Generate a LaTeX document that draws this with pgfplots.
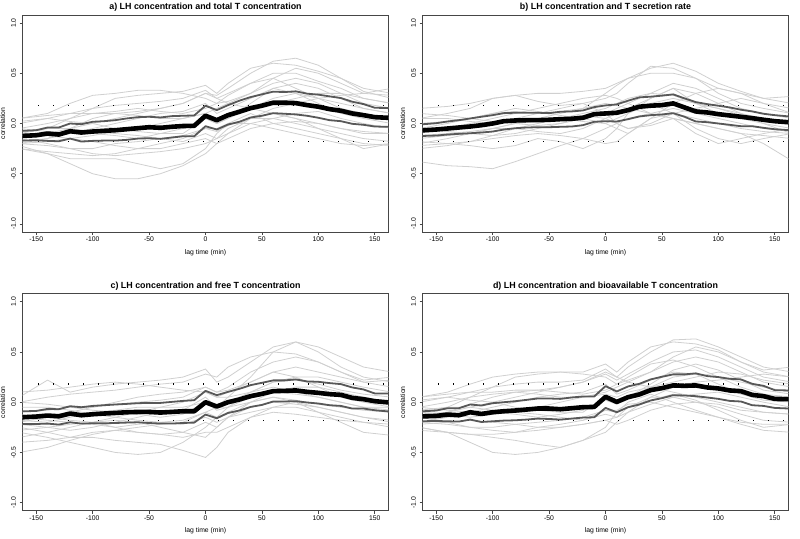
\documentclass[border=0pt]{standalone}
\usepackage{fontspec}
\setmainfont{Liberation Sans}
\usepackage{pgfplots}
\usepackage{pgfplotstable}
\pgfplotsset{compat=1.18}

\definecolor{lightg}{RGB}{208,208,208}
\definecolor{cig}{RGB}{88,88,88}
\definecolor{framec}{RGB}{70,70,70}

\pgfplotsset{
  panel/.style={
    scale only axis, width=365.6pt, height=217pt, anchor=south west,
    xmin=-162, xmax=162, ymin=-1.08, ymax=1.08,
    axis line style={framec, line width=0.8pt},
    xtick={-150,-100,-50,0,50,100,150},
    ytick={-1,-0.5,0,0.5,1},
    tick align=outside, xtick pos=bottom, ytick pos=left,
    major tick length=3pt,
    tick style={framec, line width=0.6pt},
    /pgf/number format/assume math mode=true,
    ticklabel style={font=\fontsize{6.8}{8}\selectfont},
    xticklabel style={inner sep=1.5pt},
    yticklabel style={rotate=90, anchor=south, inner sep=3.6pt,
       /pgf/number format/.cd, fixed, fixed zerofill, precision=1},
    xlabel={lag time (min)}, ylabel={correlation},
    label style={font=\fontsize{6.8}{8}\selectfont},
    xlabel style={inner sep=1pt, yshift=-5pt},
    ylabel style={inner sep=1pt},
    ylabel shift=1.2pt,
    every axis title shift=1.5pt,
    title style={font=\bfseries\fontsize{8.9}{10}\selectfont, inner sep=2pt},
  },
  gl/.style={lightg, line width=0.8pt},
  dots/.style={black, line width=1.4pt, dash pattern=on 1.4pt off 13.6pt},
  ci/.style={cig, line width=1.8pt, line join=round},
  meanl/.style={black, line width=4.6pt, line join=round},
}

% ---------- mean and confidence lines (all panels) ----------
\pgfplotstableread{
lag aM aU aL bM bU bL cM cU cL dM dU dL
-165 -0.125 -0.075 -0.170 -0.070 -0.010 -0.125 -0.152 -0.092 -0.217 -0.142 -0.092 -0.190
-150 -0.117 -0.067 -0.167 -0.060 0.003 -0.120 -0.143 -0.087 -0.217 -0.137 -0.083 -0.187
-140 -0.100 -0.040 -0.173 -0.050 0.020 -0.110 -0.133 -0.067 -0.213 -0.123 -0.060 -0.190
-130 -0.110 -0.040 -0.177 -0.040 0.033 -0.103 -0.140 -0.070 -0.223 -0.130 -0.060 -0.193
-120 -0.077 0.000 -0.150 -0.030 0.050 -0.097 -0.113 -0.040 -0.200 -0.100 -0.023 -0.173
-110 -0.090 -0.007 -0.180 -0.017 0.067 -0.090 -0.130 -0.050 -0.213 -0.117 -0.033 -0.197
-100 -0.080 0.017 -0.173 0.000 0.083 -0.080 -0.120 -0.037 -0.210 -0.100 -0.010 -0.190
-90 -0.073 0.023 -0.170 0.023 0.103 -0.060 -0.113 -0.030 -0.210 -0.090 0.000 -0.183
-80 -0.067 0.033 -0.170 0.030 0.107 -0.047 -0.107 -0.023 -0.207 -0.083 0.010 -0.180
-70 -0.057 0.050 -0.163 0.033 0.107 -0.040 -0.100 -0.017 -0.203 -0.073 0.023 -0.173
-60 -0.047 0.063 -0.150 0.033 0.107 -0.037 -0.097 -0.010 -0.200 -0.063 0.037 -0.163
-50 -0.037 0.067 -0.147 0.037 0.103 -0.037 -0.097 -0.007 -0.207 -0.063 0.037 -0.167
-40 -0.043 0.060 -0.153 0.043 0.117 -0.033 -0.103 -0.007 -0.213 -0.070 0.033 -0.173
-30 -0.033 0.073 -0.140 0.047 0.120 -0.030 -0.097 0.003 -0.213 -0.060 0.047 -0.163
-20 -0.025 0.077 -0.127 0.057 0.130 -0.017 -0.090 0.013 -0.207 -0.050 0.057 -0.153
-10 -0.023 0.080 -0.127 0.093 0.163 0.017 -0.090 0.020 -0.203 -0.047 0.057 -0.150
0 0.077 0.177 -0.027 0.100 0.180 0.023 0.000 0.113 -0.123 0.053 0.160 -0.057
10 0.033 0.133 -0.060 0.107 0.190 0.020 -0.043 0.070 -0.160 0.003 0.107 -0.100
20 0.083 0.183 -0.010 0.133 0.227 0.043 0.000 0.103 -0.107 0.050 0.157 -0.050
30 0.117 0.227 0.017 0.167 0.260 0.070 0.027 0.133 -0.083 0.077 0.183 -0.023
40 0.153 0.263 0.060 0.177 0.267 0.083 0.060 0.170 -0.047 0.120 0.227 0.017
50 0.177 0.290 0.077 0.183 0.277 0.090 0.083 0.193 -0.027 0.140 0.253 0.040
60 0.207 0.317 0.103 0.200 0.290 0.103 0.110 0.217 0.007 0.167 0.277 0.070
70 0.207 0.313 0.097 0.160 0.250 0.067 0.113 0.217 0.007 0.163 0.277 0.067
80 0.203 0.320 0.090 0.120 0.213 0.020 0.117 0.227 0.010 0.167 0.287 0.060
90 0.183 0.297 0.077 0.110 0.193 0.013 0.103 0.207 -0.003 0.147 0.260 0.047
100 0.167 0.287 0.057 0.093 0.177 0.000 0.093 0.203 -0.013 0.137 0.250 0.033
110 0.143 0.270 0.033 0.080 0.160 -0.013 0.080 0.190 -0.030 0.117 0.233 0.013
120 0.127 0.253 0.023 0.067 0.137 -0.027 0.073 0.180 -0.037 0.110 0.227 0.007
130 0.100 0.217 -0.003 0.053 0.120 -0.027 0.043 0.147 -0.063 0.073 0.183 -0.030
140 0.083 0.193 -0.013 0.037 0.097 -0.043 0.030 0.127 -0.063 0.060 0.163 -0.037
150 0.063 0.157 -0.030 0.023 0.083 -0.057 0.010 0.087 -0.080 0.033 0.120 -0.057
165 0.055 0.152 -0.034 0.010 0.068 -0.068 -0.005 0.087 -0.095 0.029 0.116 -0.064
}\stats

% ---------- individual subjects, panel a ----------
\pgfplotstableread[header=has colnames]{
lag -165 -140 -120 -100 -80 -60 -40 -20 0 10 20 40 60 80 100 120 140 165
g1 -0.20 -0.15 -0.05 0.05 0.10 0.12 0.15 0.20 0.30 0.28 0.35 0.50 0.62 0.65 0.58 0.45 0.35 0.30
g2 -0.10 -0.05 0.05 0.15 0.25 0.28 0.30 0.32 0.38 0.30 0.40 0.55 0.60 0.58 0.52 0.45 0.32 0.25
g3 0.05 0.10 0.20 0.28 0.30 0.33 0.33 0.30 0.25 0.20 0.22 0.30 0.45 0.55 0.50 0.40 0.30 0.35
g4 -0.25 -0.30 -0.40 -0.50 -0.55 -0.55 -0.50 -0.42 -0.30 -0.20 -0.10 0.05 0.15 0.20 0.25 0.28 0.30 0.28
g5 -0.22 -0.30 -0.35 -0.35 -0.35 -0.40 -0.45 -0.40 -0.25 -0.10 0.00 0.10 0.00 -0.05 -0.10 -0.15 -0.20 -0.22
g6 -0.15 -0.20 -0.25 -0.30 -0.32 -0.30 -0.28 -0.25 -0.20 -0.15 -0.05 0.05 0.05 0.00 -0.05 -0.10 -0.15 -0.18
g7 0.00 0.05 0.10 0.15 0.18 0.20 0.22 0.25 0.33 0.25 0.20 0.15 0.10 0.05 0.00 -0.05 -0.10 -0.10
g8 -0.05 0.00 0.05 0.10 0.10 0.08 0.05 0.05 0.10 0.15 0.20 0.30 0.40 0.45 0.40 0.30 0.20 0.15
g9 -0.18 -0.15 -0.10 -0.05 0.00 0.05 0.10 0.12 0.20 0.10 0.15 0.25 0.35 0.30 0.20 0.10 0.05 0.00
g10 -0.10 -0.12 -0.15 -0.12 -0.08 -0.05 0.00 0.05 0.10 0.05 0.10 0.15 0.20 0.25 0.30 0.30 0.25 0.20
g11 -0.20 -0.22 -0.25 -0.25 -0.20 -0.18 -0.15 -0.12 -0.05 -0.08 -0.02 0.05 0.10 0.05 -0.05 -0.15 -0.25 -0.20
g12 0.02 0.05 0.02 0.00 -0.05 -0.08 -0.10 -0.10 0.05 0.00 0.05 0.15 0.25 0.30 0.25 0.20 0.15 0.10
g13 -0.25 -0.28 -0.30 -0.32 -0.30 -0.25 -0.20 -0.15 -0.05 -0.05 0.00 0.00 -0.05 -0.10 -0.15 -0.20 -0.22 -0.20
g14 -0.12 -0.10 -0.05 0.00 0.05 0.10 0.15 0.20 0.30 0.25 0.30 0.40 0.50 0.50 0.42 0.35 0.25 0.20
g15 -0.08 -0.05 -0.05 -0.08 -0.10 -0.12 -0.15 -0.18 -0.10 -0.15 -0.10 0.00 0.05 0.10 0.12 0.05 0.00 -0.05
g16 0.05 0.08 0.10 0.10 0.12 0.15 0.12 0.10 0.15 0.20 0.28 0.40 0.45 0.35 0.25 0.15 0.10 0.05
g17 -0.20 -0.18 -0.15 -0.18 -0.22 -0.25 -0.25 -0.20 -0.15 -0.20 -0.15 -0.05 0.00 0.02 0.00 -0.05 -0.08 -0.10
g18 -0.05 -0.08 -0.10 -0.10 -0.12 -0.15 -0.10 -0.05 0.05 0.00 0.05 0.20 0.35 0.40 0.35 0.25 0.15 0.10
}\rawA
\pgfplotstabletranspose[colnames from=lag]\grayA{\rawA}

% ---------- panel b ----------
\pgfplotstableread[header=has colnames]{
lag -165 -140 -120 -100 -80 -60 -40 -20 0 10 20 40 60 80 100 120 140 165
g1 -0.38 -0.42 -0.43 -0.45 -0.38 -0.30 -0.22 -0.15 -0.05 0.00 0.05 0.10 0.15 0.10 0.05 0.00 -0.05 -0.08
g2 0.15 0.17 0.20 0.25 0.28 0.30 0.30 0.32 0.35 0.40 0.45 0.55 0.60 0.52 0.40 0.32 0.25 0.20
g3 0.05 0.10 0.15 0.25 0.28 0.22 0.18 0.20 0.25 0.30 0.40 0.57 0.55 0.45 0.30 0.20 0.15 0.10
g4 -0.20 -0.15 -0.10 -0.05 0.00 0.05 0.10 0.15 0.30 0.38 0.45 0.50 0.50 0.45 0.35 0.30 0.25 0.27
g5 -0.10 -0.05 0.00 0.05 0.10 0.15 0.20 0.25 0.28 0.25 0.20 0.10 0.05 0.00 -0.05 -0.10 -0.20 -0.37
g6 -0.22 -0.20 -0.22 -0.25 -0.22 -0.15 -0.18 -0.25 -0.15 -0.05 0.10 0.25 0.35 0.30 0.20 0.10 0.00 -0.10
g7 0.10 0.08 0.05 0.02 0.00 -0.02 0.00 0.05 0.10 0.15 0.20 0.30 0.40 0.35 0.25 0.15 0.10 0.05
g8 -0.05 -0.08 -0.10 -0.12 -0.10 -0.05 0.00 0.05 0.10 0.12 0.15 0.20 0.25 0.20 0.15 0.10 0.05 0.00
g9 -0.15 -0.12 -0.10 -0.05 0.00 0.02 0.05 0.08 0.05 0.00 -0.05 -0.02 0.05 -0.10 -0.20 -0.15 -0.10 -0.05
g10 0.00 0.02 0.05 0.10 0.15 0.12 0.08 0.05 0.00 -0.05 -0.10 0.05 0.20 0.30 0.35 0.30 0.20 0.15
g11 -0.12 -0.10 -0.08 -0.05 -0.05 -0.08 -0.10 -0.05 0.05 0.10 0.15 0.10 0.05 0.00 -0.05 -0.10 -0.12 -0.15
g12 -0.05 0.00 0.05 0.10 0.12 0.10 0.12 0.15 0.20 0.18 0.15 0.25 0.35 0.20 0.10 0.05 0.00 -0.05
g13 -0.18 -0.20 -0.18 -0.15 -0.12 -0.10 -0.12 -0.15 -0.20 -0.18 -0.10 0.05 0.10 0.05 0.00 -0.05 -0.08 -0.10
g14 0.05 0.05 0.02 0.00 0.05 0.10 0.15 0.20 0.10 0.00 -0.05 0.00 0.10 0.15 0.20 0.25 0.20 0.10
g15 -0.08 -0.05 -0.02 0.00 0.02 0.05 0.05 0.02 0.00 0.05 0.10 0.20 0.10 -0.05 -0.15 -0.20 -0.15 -0.10
g16 -0.25 -0.22 -0.18 -0.12 -0.05 0.00 0.05 0.10 0.15 0.20 0.25 0.30 0.28 0.20 0.15 0.08 0.03 0.00
}\rawB
\pgfplotstabletranspose[colnames from=lag]\grayB{\rawB}

% ---------- panel c ----------
\pgfplotstableread[header=has colnames]{
lag -165 -140 -120 -100 -80 -60 -40 -20 0 10 20 40 60 80 100 120 140 165
g1 -0.50 -0.45 -0.38 -0.32 -0.28 -0.25 -0.22 -0.20 -0.10 -0.05 0.05 0.25 0.50 0.60 0.55 0.45 0.35 0.30
g2 -0.30 -0.35 -0.40 -0.45 -0.50 -0.52 -0.50 -0.40 -0.25 -0.15 -0.05 0.10 0.20 0.25 0.25 0.20 0.15 0.10
g3 0.05 0.22 0.10 0.15 0.18 0.20 0.22 0.25 0.33 0.20 0.25 0.40 0.55 0.60 0.50 0.35 0.25 0.20
g4 -0.25 -0.30 -0.35 -0.35 -0.38 -0.40 -0.42 -0.48 -0.55 -0.45 -0.30 -0.15 -0.05 0.00 -0.05 -0.10 -0.15 -0.20
g5 -0.15 -0.18 -0.20 -0.22 -0.25 -0.22 -0.20 -0.18 -0.10 -0.15 -0.10 0.00 0.05 0.00 -0.10 -0.20 -0.30 -0.33
g6 0.00 0.05 0.08 0.10 0.12 0.15 0.18 0.20 0.28 0.25 0.35 0.45 0.50 0.48 0.40 0.30 0.20 0.15
g7 -0.20 -0.15 -0.10 -0.05 0.00 0.05 0.08 0.10 0.15 0.10 0.12 0.20 0.30 0.35 0.30 0.25 0.20 0.22
g8 -0.10 -0.08 -0.05 -0.08 -0.10 -0.12 -0.15 -0.12 0.00 -0.05 -0.05 0.05 0.10 0.15 0.15 0.10 0.05 0.00
g9 -0.35 -0.30 -0.25 -0.20 -0.18 -0.20 -0.25 -0.30 -0.35 -0.25 -0.15 -0.05 0.00 -0.02 -0.05 -0.10 -0.15 -0.18
g10 0.10 0.12 0.15 0.18 0.20 0.18 0.15 0.12 0.10 0.05 0.05 0.10 0.15 0.10 0.05 0.00 -0.05 -0.05
g11 -0.22 -0.25 -0.28 -0.25 -0.20 -0.15 -0.10 -0.08 0.05 -0.05 0.00 0.10 0.20 0.22 0.18 0.12 0.08 0.05
g12 -0.05 -0.05 -0.08 -0.12 -0.15 -0.18 -0.20 -0.22 -0.15 -0.20 -0.15 -0.10 -0.05 -0.05 -0.10 -0.15 -0.20 -0.25
g13 -0.28 -0.25 -0.22 -0.20 -0.15 -0.10 -0.05 0.00 0.10 0.05 0.10 0.20 0.30 0.25 0.15 0.05 0.00 -0.05
g14 -0.12 -0.15 -0.18 -0.20 -0.25 -0.30 -0.32 -0.30 -0.20 -0.25 -0.15 0.00 0.10 0.08 0.05 0.00 -0.05 -0.08
g15 0.00 -0.02 -0.05 -0.05 -0.02 0.00 0.02 0.05 0.15 0.10 0.15 0.30 0.40 0.45 0.40 0.30 0.22 0.25
g16 -0.18 -0.20 -0.15 -0.10 -0.08 -0.05 -0.05 -0.05 0.00 -0.08 -0.05 0.00 0.05 0.02 -0.02 -0.05 -0.08 -0.10
g17 -0.40 -0.38 -0.35 -0.30 -0.28 -0.30 -0.32 -0.35 -0.30 -0.30 -0.25 -0.15 -0.10 -0.12 -0.15 -0.18 -0.20 -0.22
}\rawC
\pgfplotstabletranspose[colnames from=lag]\grayC{\rawC}

% ---------- panel d ----------
\pgfplotstableread[header=has colnames]{
lag -165 -140 -120 -100 -80 -60 -40 -20 0 10 20 40 60 80 100 120 140 165
g1 -0.15 -0.10 -0.02 0.05 0.10 0.12 0.15 0.20 0.30 0.25 0.35 0.50 0.62 0.63 0.55 0.45 0.35 0.30
g2 -0.10 -0.05 0.05 0.15 0.25 0.28 0.30 0.30 0.38 0.30 0.40 0.55 0.60 0.58 0.52 0.40 0.30 0.25
g3 0.05 0.10 0.18 0.25 0.28 0.30 0.30 0.28 0.25 0.18 0.22 0.30 0.45 0.55 0.50 0.40 0.32 0.35
g4 -0.25 -0.30 -0.40 -0.50 -0.52 -0.50 -0.45 -0.38 -0.30 -0.20 -0.10 0.05 0.15 0.20 0.22 0.25 0.28 0.25
g5 -0.25 -0.30 -0.32 -0.35 -0.38 -0.42 -0.45 -0.38 -0.25 -0.10 0.00 0.08 0.00 -0.08 -0.15 -0.22 -0.28 -0.30
g6 -0.15 -0.20 -0.25 -0.28 -0.30 -0.28 -0.25 -0.22 -0.18 -0.15 -0.05 0.05 0.05 0.00 -0.05 -0.12 -0.18 -0.20
g7 0.00 0.05 0.10 0.15 0.18 0.20 0.20 0.22 0.33 0.25 0.20 0.15 0.10 0.05 0.00 -0.05 -0.10 -0.12
g8 -0.05 0.00 0.05 0.08 0.10 0.08 0.05 0.05 0.10 0.15 0.20 0.30 0.40 0.45 0.40 0.30 0.20 0.15
g9 -0.20 -0.15 -0.10 -0.05 0.00 0.05 0.08 0.10 0.18 0.08 0.12 0.22 0.30 0.28 0.18 0.08 0.02 0.00
g10 -0.10 -0.12 -0.15 -0.12 -0.08 -0.05 0.00 0.05 0.08 0.05 0.10 0.15 0.20 0.25 0.30 0.28 0.22 0.18
g11 -0.20 -0.22 -0.25 -0.25 -0.22 -0.20 -0.18 -0.15 -0.08 -0.10 -0.05 0.02 0.08 0.02 -0.08 -0.18 -0.25 -0.22
g12 0.02 0.05 0.02 0.00 -0.05 -0.08 -0.10 -0.10 0.05 0.00 0.05 0.15 0.25 0.28 0.25 0.20 0.15 0.10
g13 -0.28 -0.30 -0.32 -0.32 -0.30 -0.25 -0.22 -0.18 -0.08 -0.08 -0.02 0.00 -0.05 -0.10 -0.15 -0.20 -0.22 -0.22
g14 -0.12 -0.10 -0.05 0.00 0.05 0.10 0.15 0.20 0.28 0.22 0.28 0.40 0.50 0.52 0.45 0.35 0.25 0.20
g15 -0.08 -0.05 -0.05 -0.08 -0.10 -0.12 -0.15 -0.18 -0.12 -0.15 -0.10 -0.02 0.05 0.08 0.10 0.05 0.00 -0.05
g16 0.05 0.08 0.10 0.10 0.12 0.12 0.10 0.08 0.12 0.18 0.25 0.38 0.42 0.35 0.25 0.15 0.08 0.05
g17 -0.22 -0.20 -0.18 -0.20 -0.22 -0.25 -0.25 -0.22 -0.18 -0.22 -0.18 -0.08 -0.02 0.00 -0.02 -0.08 -0.10 -0.12
g18 -0.05 -0.08 -0.10 -0.10 -0.12 -0.15 -0.12 -0.08 0.02 -0.02 0.05 0.18 0.32 0.38 0.32 0.22 0.12 0.08
}\rawD
\pgfplotstabletranspose[colnames from=lag]\grayD{\rawD}

\begin{document}
\begin{tikzpicture}[x=1pt,y=1pt]
\path[use as bounding box] (0,0) rectangle (800,538);

% a
\begin{axis}[panel, at={(22.7pt,306pt)}, title={a) LH concentration and total T concentration}]
\pgfplotsinvokeforeach{1,...,18}{\addplot[gl] table[x=colnames,y=g#1]{\grayA};}
\addplot[dots] coordinates {(-148.4,0.18) (162,0.18)};
\addplot[dots] coordinates {(-148.4,-0.18) (162,-0.18)};
\addplot[ci] table[x=lag,y=aU]{\stats};
\addplot[ci] table[x=lag,y=aL]{\stats};
\addplot[meanl] table[x=lag,y=aM]{\stats};
\end{axis}

% b
\begin{axis}[panel, at={(422.7pt,306pt)}, title={b) LH concentration and T secretion rate}]
\pgfplotsinvokeforeach{1,...,16}{\addplot[gl] table[x=colnames,y=g#1]{\grayB};}
\addplot[dots] coordinates {(-148.4,0.18) (162,0.18)};
\addplot[dots] coordinates {(-148.4,-0.18) (162,-0.18)};
\addplot[ci] table[x=lag,y=bU]{\stats};
\addplot[ci] table[x=lag,y=bL]{\stats};
\addplot[meanl] table[x=lag,y=bM]{\stats};
\end{axis}

% c
\begin{axis}[panel, at={(22.7pt,27.3pt)}, title={c) LH concentration and free T concentration}]
\pgfplotsinvokeforeach{1,...,17}{\addplot[gl] table[x=colnames,y=g#1]{\grayC};}
\addplot[dots] coordinates {(-148.4,0.18) (162,0.18)};
\addplot[dots] coordinates {(-148.4,-0.18) (162,-0.18)};
\addplot[ci] table[x=lag,y=cU]{\stats};
\addplot[ci] table[x=lag,y=cL]{\stats};
\addplot[meanl] table[x=lag,y=cM]{\stats};
\end{axis}

% d
\begin{axis}[panel, at={(422.7pt,27.3pt)}, title={d) LH concentration and bioavailable T concentration}]
\pgfplotsinvokeforeach{1,...,18}{\addplot[gl] table[x=colnames,y=g#1]{\grayD};}
\addplot[dots] coordinates {(-148.4,0.18) (162,0.18)};
\addplot[dots] coordinates {(-148.4,-0.18) (162,-0.18)};
\addplot[ci] table[x=lag,y=dU]{\stats};
\addplot[ci] table[x=lag,y=dL]{\stats};
\addplot[meanl] table[x=lag,y=dM]{\stats};
\end{axis}
\end{tikzpicture}
\end{document}
